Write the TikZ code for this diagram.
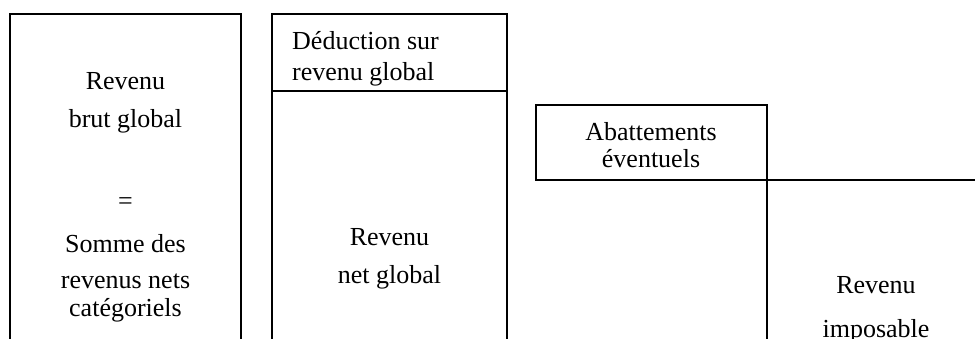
\documentclass[tikz,border=0pt]{standalone}
\usepackage{fontspec}
\setmainfont{Liberation Serif}
\begin{document}
\begin{tikzpicture}[x=1pt,y=-1pt,
  lbl/.style={anchor=base,inner sep=0pt,font=\fontsize{26}{30}\selectfont},
  lblw/.style={lbl,anchor=base west},
  edge/.style={line width=1.8pt,line cap=rect}]
\useasboundingbox (0,0) rectangle (975,338);
% corner coordinates
\coordinate (a1) at (10,340);
\coordinate (a2) at (10,14);
\coordinate (a3) at (241,14);
\coordinate (a4) at (241,340);
\coordinate (b1) at (272,340);
\coordinate (b2) at (272,14);
\coordinate (b3) at (507,14);
\coordinate (b4) at (507,340);
\coordinate (bl) at (272,91);
\coordinate (br) at (507,91);
\coordinate (c1) at (536,105);
\coordinate (c2) at (767,180);
\coordinate (c3) at (977,180);
\coordinate (c4) at (767,340);
% shapes
\draw[edge] (a1) -- (a2) -- (a3) -- (a4);
\draw[edge] (b1) -- (b2) -- (b3) -- (b4);
\draw[edge] (bl) -- (br);
\draw[edge] (c1) rectangle (c2);
\draw[edge] (c2) -- (c3);
\draw[edge] (c2) -- (c4);
% texts
\node[lbl] (t1) at (125.5,89) {Revenu};
\node[lbl] (t2) at (125.5,127) {brut global};
\node[lbl] (t3) at (125.5,209) {=};
\node[lbl] (t4) at (125.5,252) {Somme des};
\node[lbl] (t5) at (125.5,288) {revenus nets};
\node[lbl] (t6) at (125.5,316) {catégoriels};
\node[lblw] (d1) at (292,49) {Déduction sur};
\node[lblw] (d2) at (292,80) {revenu global};
\node[lbl] (n1) at (389.5,245) {Revenu};
\node[lbl] (n2) at (389.5,283) {net global};
\node[lbl] (e1) at (651,140) {Abattements};
\node[lbl] (e2) at (651,167) {éventuels};
\node[lbl] (i1) at (876,293) {Revenu};
\node[lbl] (i2) at (876,337) {imposable};
\end{tikzpicture}
\end{document}
